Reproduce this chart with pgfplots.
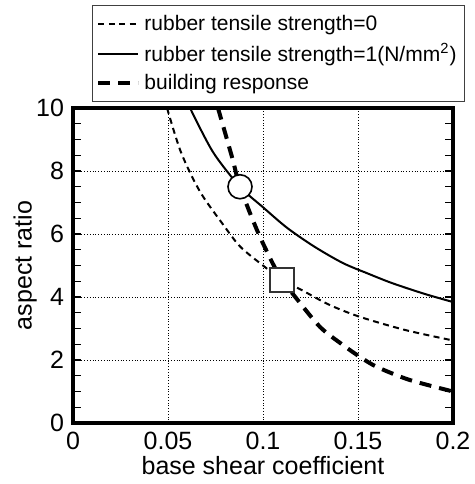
\documentclass[border=0pt]{standalone}
\usepackage{fontspec}
\setmainfont{Liberation Sans}
\usepackage{pgfplots}
\pgfplotsset{compat=1.18}

\begin{document}
\begin{tikzpicture}
\useasboundingbox (-36.5pt,-30.5pt) rectangle (201pt,211.5pt);
\begin{axis}[
  scale only axis,
  width=190pt, height=157.5pt,
  xmin=0, xmax=0.2, ymin=0, ymax=10,
  xtick={0,0.05,0.1,0.15,0.2},
  xticklabels={0,0.05,0.1,0.15,0.2},
  ytick={0,2,4,6,8,10},
  minor ytick={0.5,1,...,9.5},
  /pgf/number format/assume math mode=true,
  tick align=inside,
  xtick style={draw=none},
  major tick length=4pt, minor tick length=4pt,
  ytick pos=both,
  every tick/.style={black, line width=0.6pt},
  grid=major,
  major grid style={black, densely dotted, line width=0.4pt},
  axis line style={line width=1.6pt},
  tick label style={font=\fontsize{12.5}{14}\selectfont},
  label style={font=\fontsize{12.5}{14}\selectfont},
  xlabel={base shear coefficient},
  ylabel={aspect ratio},
  xlabel style={at={(axis description cs:0.5,0)}, anchor=north, yshift=-13pt},
  ylabel style={at={(axis description cs:0,0.5)}, anchor=south, yshift=14.5pt},
  yticklabel style={xshift=-1pt},
  xticklabel style={yshift=-1pt},
  legend style={at={(rel axis cs:0.05,1)}, anchor=south west, yshift=3pt,
    draw=black!75, line width=0.5pt, inner xsep=2pt, inner ysep=2.5pt,
    font=\fontsize{10.5}{12}\selectfont, row sep=1pt,
    cells={anchor=west}},
  legend image code/.code={\draw[#1] (0pt,0pt) -- (20pt,0pt);},
  clip=true,
]
\addplot[black, line width=1pt, dash pattern=on 3pt off 2.2pt, smooth, tension=0.5] coordinates {
  (0.0495,10) (0.0568,8.6) (0.0668,7.35) (0.079,6.3) (0.088,5.6) (0.100,5.0)
  (0.110,4.55) (0.121,4.2) (0.135,3.75) (0.151,3.37) (0.175,2.95) (0.2,2.62)
};
\addplot[black, line width=1pt, smooth, tension=0.5] coordinates {
  (0.0616,10) (0.0737,8.6) (0.0879,7.5) (0.1,6.85) (0.1126,6.2) (0.127,5.6)
  (0.142,5.08) (0.155,4.75) (0.168,4.44) (0.185,4.1) (0.2,3.84)
};
\addplot[black, line width=2pt, dash pattern=on 6pt off 4pt, smooth, tension=0.5] coordinates {
  (0.0763,10) (0.0837,8.44) (0.0879,7.5) (0.0968,6.13) (0.105,5.08) (0.110,4.55)
  (0.117,4.0) (0.130,3.05) (0.142,2.48) (0.151,2.10) (0.160,1.78) (0.177,1.37) (0.2,1.0)
};
\addplot[only marks, mark=*, mark size=6pt, mark options={fill=white, draw=black, line width=0.8pt}, forget plot] coordinates {(0.0879,7.5)};
\addplot[only marks, mark=square*, mark size=6pt, mark options={fill=white, draw=black!80, line width=0.9pt}, forget plot] coordinates {(0.110,4.55)};
\legend{rubber tensile strength=0, rubber tensile strength=1(N/mm\textsuperscript{2}), building response}
\end{axis}
\end{tikzpicture}
\end{document}
